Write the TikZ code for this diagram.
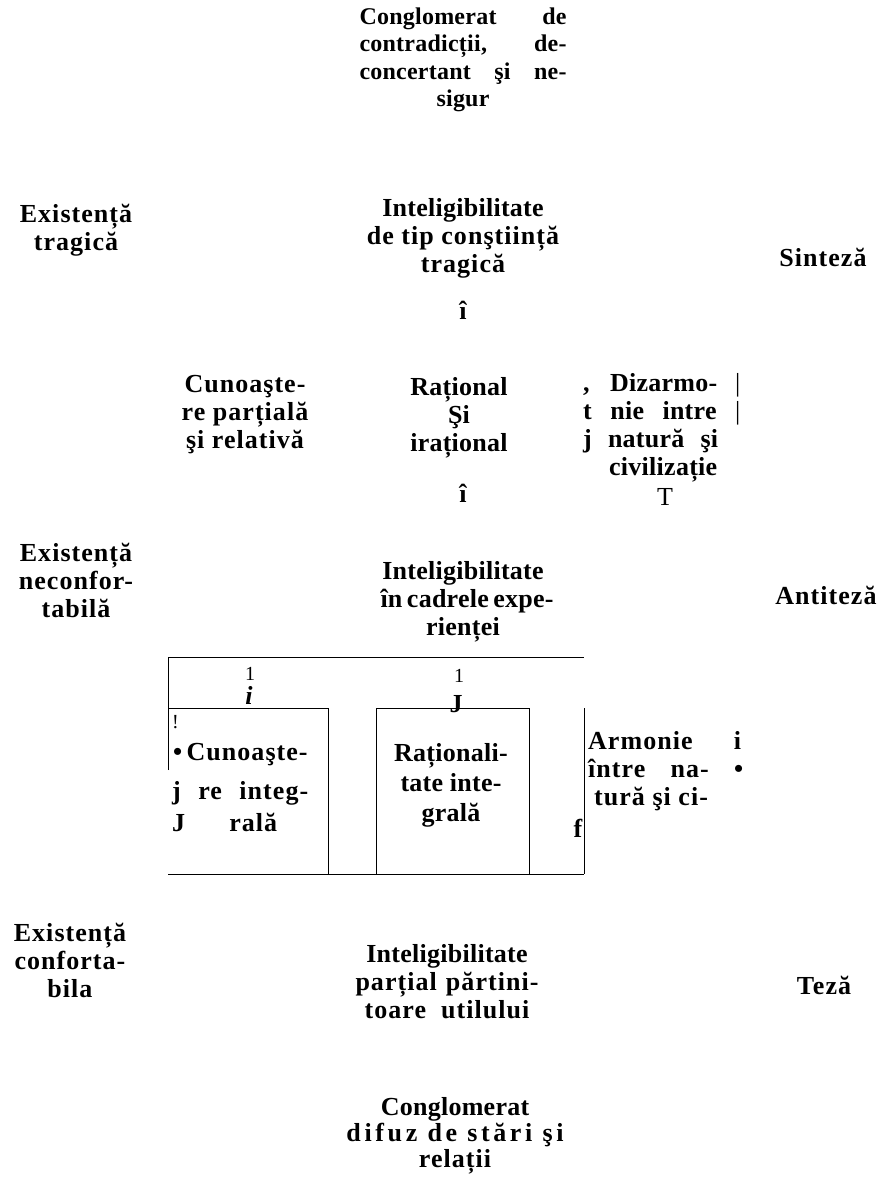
\documentclass[tikz,border=0pt]{standalone}
\usepackage{fontspec}
\setmainfont{Liberation Serif}[LetterSpace=1]
\newfontfamily\spfont{Liberation Serif}[LetterSpace=4]
\newfontfamily\wfont{Liberation Serif}[LetterSpace=14]
\begin{document}
\begin{tikzpicture}[x=1pt,y=-1pt,
  txt/.style={font={\fontsize{26}{28}\selectfont\bfseries}, align=center, inner sep=0pt},
  sptxt/.style={txt, font={\spfont\fontsize{26}{28}\selectfont\bfseries}},
  wtxt/.style={txt, font={\wfont\fontsize{26}{28}\selectfont\bfseries}},
  thin/.style={font={\fontsize{20}{22}\selectfont}, inner sep=0pt},
  ln/.style={line width=0.9pt}]
\useasboundingbox (0,0) rectangle (879,1177);
% top
\node[txt, font={\fontsize{24}{27.5}\selectfont\bfseries}] (top) at (463,60)
  {\makebox[207pt][s]{Conglomerat de}\\\makebox[207pt][s]{contradicții, de-}\\\makebox[207pt][s]{concertant şi ne-}\\sigur};
% left column
\node[sptxt] (ex1) at (76,230) {Existență\\tragică};
\node[sptxt] (ex2) at (76,580) {Existență\\neconfor-\\tabilă};
\node[sptxt] (ex3) at (70,960) {Existență\\conforta-\\bila};
% right column
\node[sptxt] (sin) at (823,257) {Sinteză};
\node[sptxt] (ant) at (826,595) {Antiteză};
\node[sptxt] (tez) at (824,985) {Teză};
% centre
\node[txt] (int1) at (463,238) {Inteligibilitate\\{\spfont de tip conştiință}\\{\spfont tragică}};
\node[txt] (up1) at (463,310) {î};
\node[sptxt] (cun) at (245,415) {Cunoaşte-\\re parțială\\şi relativă};
\node[txt] (rat) at (459,418) {Rațional\\Şi\\irațional};
\node[txt, anchor=west, align=left] (diz) at (583,428)
  {\makebox[157pt][s]{, Dizarmo- {\mdseries|}}\\\makebox[157pt][s]{t nie intre {\mdseries|}}\\\makebox[135pt][s]{j natură şi}\\\makebox[160pt][c]{civilizație}};
\node[txt] (up2) at (463,493) {î};
\node[thin, font={\fontsize{26}{28}\selectfont}] (tt) at (665,497) {T};
\node[txt] (int2) at (463,602) {Inteligibilitate\\\makebox[165pt][s]{în cadrele expe-}\\rienței};
% box structure
\coordinate (a1) at (168,657);
\coordinate (a2) at (584,657);
\coordinate (a3) at (168,770);
\coordinate (b1) at (168,708);
\coordinate (b2) at (328,708);
\coordinate (b3) at (328,874);
\coordinate (c1) at (376,874);
\coordinate (c2) at (376,708);
\coordinate (c3) at (529,708);
\coordinate (c4) at (529,874);
\coordinate (d1) at (584,708);
\coordinate (d2) at (584,874);
\coordinate (e1) at (168,874);
\draw[ln] (a3) -- (a1) -- (a2);
\draw[ln] (b1) -- (b2) -- (b3);
\draw[ln] (c1) -- (c2) -- (c3) -- (c4);
\draw[ln] (d1) -- (d2);
\draw[ln] (e1) -- (d2);
\node[thin] (one1) at (250,674) {1};
\node[txt, font={\fontsize{26}{28}\selectfont\bfseries\itshape}] (ii) at (249,695) {i};
\node[thin] (one2) at (459,676) {1};
\node[txt] (jj) at (456,704) {J};
\node[thin, anchor=west] (ex) at (172,722) {!};
\node[sptxt, anchor=west] (k1) at (173,755) {•\,Cunoaşte-};
\node[sptxt, anchor=west] (k2) at (172,793) {\makebox[136pt][s]{j re integ-}};
\node[sptxt, anchor=west] (k3) at (172,822) {\makebox[105pt][s]{J rală}};
\node[txt] (rint) at (451,785) {Raționali-\\[2pt]tate inte-\\[2pt]grală};
\node[txt] (ff) at (578,828) {f};
\node[sptxt, anchor=west, align=left] (arm) at (588,771)
  {\makebox[153pt][s]{Armonie i}\\\makebox[155pt][s]{între na- •}\\\hspace*{6pt}tură şi ci-};
% bottom
\node[txt] (int3) at (447,982) {Inteligibilitate\\{\spfont\makebox[183pt][s]{parțial părtini-}}\\{\spfont toare\ \ utilului}};
\node[txt, font={\fontsize{26}{26}\selectfont\bfseries}] (bot) at (455,1136) {Conglomerat\\{\wfont difuz de stări şi}\\{\spfont relații}};
\end{tikzpicture}
\end{document}
